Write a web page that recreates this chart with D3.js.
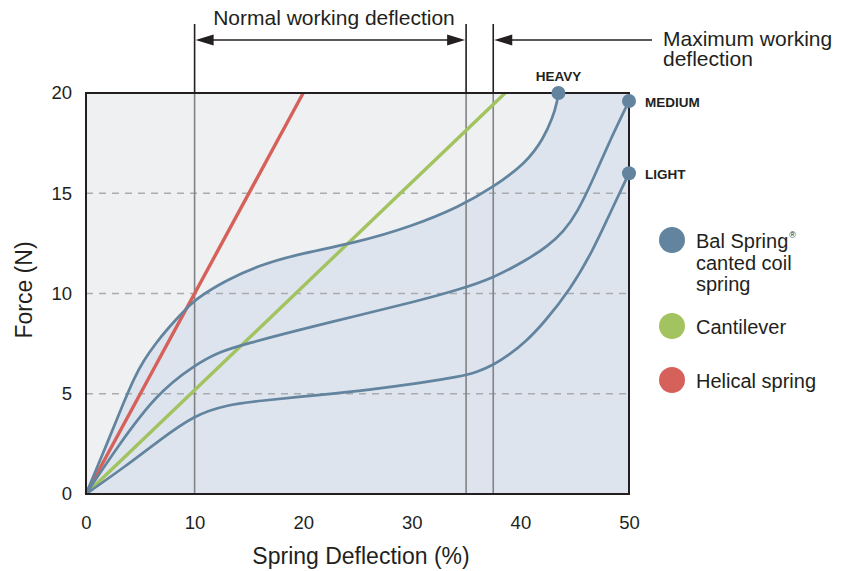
<!DOCTYPE html>
<html>
<head>
<meta charset="utf-8">
<script src="https://cdn.jsdelivr.net/npm/d3@7"></script>
<style>
  body { margin: 0; background: #fff; }
  text { font-family: "Liberation Sans", Arial, sans-serif; fill: #231f20; }
</style>
</head>
<body>
<div id="chart"></div>
<script>
// --- data ---
const xTicks = [0, 10, 20, 30, 40, 50];
const yTicks = [0, 5, 10, 15, 20];
const gridY = [5, 10, 15];

const heavyX = [0, 2, 3.5, 4.4, 5.3, 6.4, 7.6, 8.9, 10, 13, 16, 19, 25, 30, 34.4, 37.5, 40.5, 42.1, 43, 43.4, 43.5];
const heavyY = [0, 2.6, 4.6, 5.75, 6.65, 7.5, 8.3, 9.05, 9.7, 10.7, 11.4, 11.9, 12.55, 13.35, 14.33, 15.3, 16.5, 17.7, 18.8, 19.6, 20];

const mediumX = [0, 2.9, 6.5, 10, 12.3, 14.8, 19.7, 25, 30, 34.4, 37.5, 40.57, 42.5, 44, 45.2, 46.7, 48.3, 50];
const mediumY = [0, 2.36, 5, 6.43, 7.1, 7.5, 8.2, 8.9, 9.55, 10.2, 10.77, 11.67, 12.35, 13.1, 14.0, 15.7, 17.7, 19.6];

const lightX = [0, 3.7, 6.8, 10, 12.9, 16, 21.5, 26, 31, 34.4, 36, 37.5, 39, 40.5, 42.1, 44.57, 46.7, 48.25, 50];
const lightY = [0, 1.4, 2.7, 3.94, 4.44, 4.65, 4.94, 5.19, 5.55, 5.85, 6.08, 6.43, 6.95, 7.6, 8.5, 10.17, 12.17, 14.0, 16.0];

const cantileverX = [0, 38.6];
const cantileverY = [0, 20];
const helicalX = [0, 20];
const helicalY = [0, 20];

const curveNames = ["HEAVY", "MEDIUM", "LIGHT"];
const normalRange = [10, 35];
const maxWorking = 37.5;

const legendLabels = [["Bal Spring", "canted coil", "spring"], ["Cantilever"], ["Helical spring"]];
const legendColors = ["#62849e", "#a2c35f", "#d6615a"];

// --- layout ---
const width = 842, height = 571;
const margin = {top: 93, right: 213, bottom: 77, left: 86};
const blue = "#62849e";
const ink = "#231f20";

const svg = d3.select("#chart").append("svg")
  .attr("width", width)
  .attr("height", height);

const x = d3.scaleLinear().domain([0, 50]).range([margin.left, width - margin.right]);
const y = d3.scaleLinear().domain([0, 20]).range([height - margin.bottom, margin.top]);

const zip = (xs, ys) => xs.map((v, i) => [v, ys[i]]);
const heavy = zip(heavyX, heavyY), medium = zip(mediumX, mediumY), light = zip(lightX, lightY);
const line = d3.line().x(d => x(d[0])).y(d => y(d[1])).curve(d3.curveBasis);

// background
svg.append("rect")
  .attr("x", x(0)).attr("y", y(20))
  .attr("width", x(50) - x(0)).attr("height", y(0) - y(20))
  .attr("fill", "#eff0f2");

// shaded area under the heavy curve
svg.append("path")
  .attr("d", line(heavy) + "L" + x(50) + "," + y(20) + "L" + x(50) + "," + y(0) + "Z")
  .attr("fill", "#dde4ee");

// dashed grid
svg.append("g").selectAll("line").data(gridY).join("line")
  .attr("x1", x(0)).attr("x2", x(50))
  .attr("y1", d => y(d)).attr("y2", d => y(d))
  .attr("stroke", "#a9abae").attr("stroke-width", 1.5)
  .attr("stroke-dasharray", "7,6");

// vertical reference lines (gray inside the frame, dark above it)
const refs = [normalRange[0], normalRange[1], maxWorking];
const refTop = 24;
svg.append("g").selectAll("line").data(refs).join("line")
  .attr("x1", d => x(d)).attr("x2", d => x(d))
  .attr("y1", y(20)).attr("y2", y(0))
  .attr("stroke", "#808285").attr("stroke-width", 1.6);
svg.append("g").selectAll("line").data(refs).join("line")
  .attr("x1", d => x(d)).attr("x2", d => x(d))
  .attr("y1", refTop).attr("y2", y(20))
  .attr("stroke", ink).attr("stroke-width", 1.6);

// straight lines
svg.append("path").attr("d", line(zip(cantileverX, cantileverY)))
  .attr("fill", "none").attr("stroke", "#a2c35f").attr("stroke-width", 3.4);
svg.append("path").attr("d", line(zip(helicalX, helicalY)))
  .attr("fill", "none").attr("stroke", "#d6615a").attr("stroke-width", 3.4);

// Bal spring curves
svg.append("g").selectAll("path").data([heavy, medium, light]).join("path")
  .attr("d", line)
  .attr("fill", "none").attr("stroke", blue).attr("stroke-width", 2.7);

// frame
svg.append("rect")
  .attr("x", x(0)).attr("y", y(20))
  .attr("width", x(50) - x(0)).attr("height", y(0) - y(20))
  .attr("fill", "none").attr("stroke", ink).attr("stroke-width", 2);

// end dots + labels
const ends = [heavy, medium, light].map(c => c[c.length - 1]);
svg.append("g").selectAll("circle").data(ends).join("circle")
  .attr("cx", d => x(d[0])).attr("cy", d => y(d[1])).attr("r", 7)
  .attr("fill", blue);
svg.append("text").attr("x", x(ends[0][0])).attr("y", 81)
  .attr("text-anchor", "middle").attr("font-size", 13.5).attr("font-weight", "bold").text(curveNames[0]);
svg.append("text").attr("x", x(50) + 16).attr("y", y(ends[1][1]) + 5.5)
  .attr("font-size", 13.5).attr("font-weight", "bold").text(curveNames[1]);
svg.append("text").attr("x", x(50) + 16).attr("y", y(ends[2][1]) + 5.5)
  .attr("font-size", 13.5).attr("font-weight", "bold").text(curveNames[2]);

// axes
const xAxis = svg.append("g").attr("transform", `translate(0,${y(0)})`)
  .call(d3.axisBottom(x).tickValues(xTicks).tickSize(0).tickPadding(22));
xAxis.select(".domain").remove();
xAxis.selectAll("text").attr("font-size", 18.5).style("font-family", "Liberation Sans, Arial, sans-serif").attr("fill", ink);

const yAxis = svg.append("g").attr("transform", `translate(${x(0)},0)`)
  .call(d3.axisLeft(y).tickValues(yTicks).tickSize(0).tickPadding(14));
yAxis.select(".domain").remove();
yAxis.selectAll("text").attr("font-size", 18.5).style("font-family", "Liberation Sans, Arial, sans-serif").attr("fill", ink);

svg.append("text").attr("x", 361).attr("y", 564)
  .attr("text-anchor", "middle").attr("font-size", 23).text("Spring Deflection (%)");
svg.append("text").attr("transform", "translate(32,290) rotate(-90)")
  .attr("text-anchor", "middle").attr("font-size", 23).text("Force (N)");

// annotation arrows
const arrowY = 40;
function arrowHead(px, dir) {
  // dir = 1 points right, -1 points left
  const len = 18, half = 5.5;
  return `M${px},${arrowY}L${px - dir * len},${arrowY - half}L${px - dir * len},${arrowY + half}Z`;
}
const ann = svg.append("g");
ann.append("line").attr("x1", x(normalRange[0]) + 4).attr("x2", x(normalRange[1]) - 4)
  .attr("y1", arrowY).attr("y2", arrowY).attr("stroke", ink).attr("stroke-width", 1.6);
ann.append("path").attr("d", arrowHead(x(normalRange[0]) + 1, -1)).attr("fill", ink);
ann.append("path").attr("d", arrowHead(x(normalRange[1]) - 1, 1)).attr("fill", ink);
ann.append("line").attr("x1", x(maxWorking) + 4).attr("x2", 652)
  .attr("y1", arrowY).attr("y2", arrowY).attr("stroke", ink).attr("stroke-width", 1.6);
ann.append("path").attr("d", arrowHead(x(maxWorking) + 1, -1)).attr("fill", ink);

ann.append("text").attr("x", 334).attr("y", 25)
  .attr("text-anchor", "middle").attr("font-size", 21).text("Normal working deflection");
const maxText = ann.append("text").attr("x", 663).attr("y", 46).attr("font-size", 21);
maxText.append("tspan").attr("x", 663).text("Maximum working");
maxText.append("tspan").attr("x", 663).attr("dy", 20).text("deflection");

// legend
const legendY = [240, 326, 380];
const leg = svg.append("g").selectAll("g").data(legendLabels).join("g")
  .attr("transform", (d, i) => `translate(672,${legendY[i]})`);
leg.append("circle").attr("r", 13).attr("fill", (d, i) => legendColors[i]);
leg.each(function(lines) {
  const t = d3.select(this).append("text").attr("x", 24).attr("y", 8).attr("font-size", 20);
  lines.forEach((s, j) => {
    t.append("tspan").attr("x", 24).attr("dy", j === 0 ? 0 : 21.5).text(s);
  });
});
// registered mark after "Bal Spring"
const bal = leg.filter((d, i) => i === 0);
const balWidth = bal.select("tspan").node().getComputedTextLength();
bal.append("text").attr("x", 24 + balWidth + 1).attr("y", -2).attr("font-size", 9).text("®");
</script>
</body>
</html>
